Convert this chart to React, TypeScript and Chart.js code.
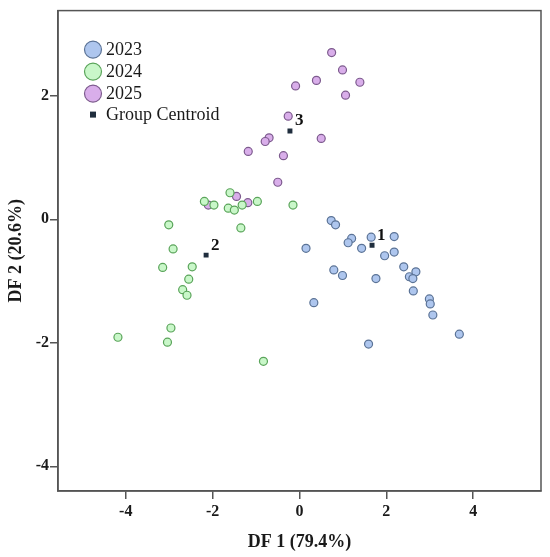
import { useEffect, useRef } from "react";
import Chart from "chart.js/auto";

const groupNames = ["2023", "2024", "2025"];
const centroidLabels = ["1", "2", "3"];
const xTicks = [-4, -2, 0, 2, 4];
const yTicks = [-4, -2, 0, 2];

const pts2023: [number, number][] = [
  [0.73, -0.02], [0.83, -0.09], [0.15, -0.47], [1.2, -0.31], [1.12, -0.38],
  [1.43, -0.47], [1.65, -0.29], [2.18, -0.28], [2.18, -0.53], [1.96, -0.59],
  [2.4, -0.77], [2.68, -0.85], [2.53, -0.93], [2.61, -0.96], [0.79, -0.82],
  [0.99, -0.91], [1.76, -0.96], [2.62, -1.16], [0.33, -1.35], [2.99, -1.29],
  [3.01, -1.37], [3.07, -1.55], [3.68, -1.86], [1.59, -2.02],
];
const pts2024: [number, number][] = [
  [-1.6, 0.43], [-2.19, 0.29], [-1.97, 0.23], [-1.64, 0.18], [-1.5, 0.15],
  [-1.32, 0.23], [-0.97, 0.29], [-0.15, 0.23], [-3.01, -0.09], [-1.35, -0.14],
  [-2.91, -0.48], [-3.15, -0.78], [-2.47, -0.77], [-2.55, -0.97], [-2.69, -1.14],
  [-2.59, -1.23], [-2.96, -1.76], [-4.18, -1.91], [-3.04, -1.99], [-0.83, -2.3],
];
const pts2025: [number, number][] = [
  [0.74, 2.7], [0.99, 2.42], [0.39, 2.25], [1.39, 2.22], [-0.09, 2.16],
  [1.06, 2.01], [-0.26, 1.67], [0.5, 1.31], [-0.7, 1.32], [-0.79, 1.26],
  [-1.18, 1.1], [-0.37, 1.03], [-0.5, 0.6], [-1.45, 0.37], [-1.19, 0.27],
  [-2.1, 0.23],
];
const centroids: [number, number][] = [
  [1.67, -0.42],
  [-2.15, -0.58],
  [-0.22, 1.43],
];

const FILLS = ["#aec6ee", "#c9f7c9", "#d9aeea"];
const EDGES = ["#5b7396", "#5aa45a", "#7d5b8e"];
const CENTROID = "#1f2d3d";
const AXIS = "#555555";
const SERIF = "'Liberation Serif', 'Times New Roman', serif";

const toXY = (pts: [number, number][]) => pts.map(([x, y]) => ({ x, y }));

export default function App() {
  const canvasRef = useRef<HTMLCanvasElement>(null);

  useEffect(() => {
    if (!canvasRef.current) return;

    // frame, axis titles, legend and centroid numbers
    const decor = {
      id: "decor",
      afterDraw(chart: Chart) {
        const { ctx, chartArea: a } = chart;
        ctx.save();
        ctx.strokeStyle = AXIS;
        ctx.lineWidth = 1.5;
        ctx.strokeRect(a.left, a.top, a.right - a.left, a.bottom - a.top);

        ctx.fillStyle = "#1a1a1a";
        ctx.font = `bold 18px ${SERIF}`;
        ctx.textAlign = "center";
        ctx.textBaseline = "middle";
        ctx.fillText("DF 1 (79.4%)", (a.left + a.right) / 2, 542);
        ctx.save();
        ctx.translate(16, (a.top + a.bottom) / 2);
        ctx.rotate(-Math.PI / 2);
        ctx.fillText("DF 2 (20.6%)", 0, 0);
        ctx.restore();

        // legend
        ctx.textAlign = "left";
        ctx.font = `18px ${SERIF}`;
        groupNames.forEach((name, i) => {
          const cy = a.top + 39 + i * 22;
          ctx.beginPath();
          ctx.arc(a.left + 35, cy, 8.5, 0, Math.PI * 2);
          ctx.fillStyle = FILLS[i];
          ctx.fill();
          ctx.lineWidth = 1.2;
          ctx.strokeStyle = EDGES[i];
          ctx.stroke();
          ctx.fillStyle = "#1a1a1a";
          ctx.fillText(name, a.left + 48, cy + 1);
        });
        const sy = a.top + 104;
        ctx.fillStyle = CENTROID;
        ctx.fillRect(a.left + 32, sy - 3, 6, 6);
        ctx.fillStyle = "#1a1a1a";
        ctx.fillText("Group Centroid", a.left + 48, sy + 1);

        // centroid numbers
        const meta = chart.getDatasetMeta(3);
        ctx.font = `bold 17px ${SERIF}`;
        ctx.fillStyle = "#111";
        meta.data.forEach((p, i) => {
          ctx.fillText(centroidLabels[i], p.x + 5, p.y - 10);
        });
        ctx.restore();
      },
    };

    const tickFont = { family: SERIF, size: 16, weight: "bold" as const };

    const chart = new Chart(canvasRef.current, {
      type: "scatter",
      data: {
        datasets: [
          ...[pts2023, pts2024, pts2025].map((pts, i) => ({
            label: groupNames[i],
            data: toXY(pts),
            backgroundColor: FILLS[i],
            borderColor: EDGES[i],
            borderWidth: 1.2,
            pointRadius: 4,
          })),
          {
            label: "Group Centroid",
            data: toXY(centroids),
            backgroundColor: CENTROID,
            borderColor: CENTROID,
            borderWidth: 0,
            pointStyle: "rect" as const,
            pointRadius: 3.5,
          },
        ],
      },
      options: {
        responsive: true,
        maintainAspectRatio: false,
        animation: false,
        layout: { padding: { top: 7, right: 9, left: 0, bottom: 0 } },
        plugins: {
          legend: { display: false },
          tooltip: { enabled: false },
        },
        scales: {
          x: {
            type: "linear",
            min: -5.56,
            max: 5.56,
            afterBuildTicks: (s) => {
              s.ticks = xTicks.map((v) => ({ value: v }));
            },
            afterFit: (s) => {
              s.height = 66;
            },
            grid: {
              drawOnChartArea: false,
              drawTicks: true,
              tickLength: 8,
              color: AXIS,
              lineWidth: 1.5,
            },
            border: { display: true, color: AXIS, width: 1.5 },
            ticks: { font: tickFont, color: "#1a1a1a", padding: 3 },
          },
          y: {
            type: "linear",
            min: -4.4,
            max: 3.38,
            afterBuildTicks: (s) => {
              s.ticks = yTicks.map((v) => ({ value: v }));
            },
            afterFit: (s) => {
              s.width = 58;
            },
            grid: {
              drawOnChartArea: false,
              drawTicks: true,
              tickLength: 8,
              color: AXIS,
              lineWidth: 1.5,
            },
            border: { display: true, color: AXIS, width: 1.5 },
            ticks: { font: tickFont, color: "#1a1a1a", padding: 1 },
          },
        },
      },
      plugins: [decor],
    });

    return () => chart.destroy();
  }, []);

  return (
    <div
      style={{
        position: "fixed",
        left: 0,
        top: 0,
        width: 550,
        height: 557,
        background: "#fff",
      }}
    >
      <canvas ref={canvasRef} />
    </div>
  );
}
